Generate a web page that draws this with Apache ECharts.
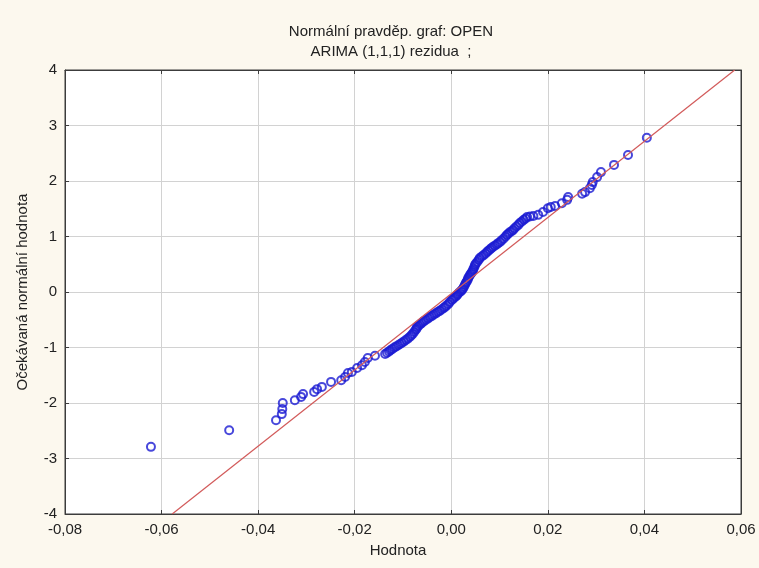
<!DOCTYPE html>
<html>
<head>
<meta charset="utf-8">
<script src="https://cdn.jsdelivr.net/npm/echarts@6/dist/echarts.min.js"></script>
<style>
html,body{margin:0;padding:0;background:#fcf8ee;}
#chart{width:759px;height:568px;}
</style>
</head>
<body>
<div id="chart"></div>
<script>
// ---- data ----
const titleLines = ['Normální pravděp. graf: OPEN', 'ARIMA (1,1,1) rezidua  ;'];
const xAxisName = 'Hodnota';
const yAxisName = 'Očekávaná normální hodnota';
const xTickLabels = ['-0,08','-0,06','-0,04','-0,02','0,00','0,02','0,04','0,06'];
const yTickLabels = ['-4','-3','-2','-1','0','1','2','3','4'];
const xMin = -0.08, xMax = 0.06, xStep = 0.02;
const yMin = -4, yMax = 4, yStep = 1;

// residual values (x) and expected normal values (y)
const residuals = [
  -0.0622,-0.0460,-0.0363,-0.0351,-0.0350,-0.0349,-0.0324,-0.0311,-0.0307,-0.0284,-0.0278,-0.0268,-0.0249,-0.0228,-0.0220,-0.0214,-0.0206,-0.0195,-0.0185,-0.0179,-0.0173,-0.0158,
  -0.0137,-0.0133,-0.0129,-0.0126,-0.0122,-0.0118,-0.0114,-0.0110,-0.0106,
  -0.0102,-0.0098,-0.0094,-0.0090,-0.0086,
  -0.0083,-0.0080,-0.0077,-0.0074,-0.0072,-0.0071,
  -0.0068,-0.0065,-0.0062,-0.0059,
  -0.0056,-0.0052,-0.0048,-0.0044,
  -0.0040,-0.0036,-0.0032,-0.0028,
  -0.0024,-0.0020,-0.0016,-0.0013,
  -0.0010,-0.0006,-0.0003,0.0001,
  0.0004,0.0007,0.0010,0.0012,
  0.0014,0.0017,0.0020,0.0022,
  0.0024,0.0026,0.0028,
  0.0030,0.0032,0.0034,0.0035,
  0.0037,0.0039,0.0041,0.0043,
  0.0045,0.0046,0.0048,0.0049,
  0.0051,0.0054,0.0057,0.0059,
  0.0063,0.0067,0.0071,0.0074,
  0.0077,0.0080,0.0083,0.0086,
  0.0090,0.0094,0.0097,0.0101,
  0.0104,0.0108,0.0112,0.0115,
  0.0118,0.0121,0.0125,0.0128,
  0.0131,0.0135,0.0139,0.0142,
  0.0146,0.0150,0.0154,0.0157,
  0.0163,0.0170,
  0.0180,0.0190,0.0200,0.0206,0.0215,0.0229,0.0240,0.0242,0.0271,0.0277,0.0287,0.0291,0.0293,0.0302,0.0310,0.0337,0.0366,0.0405
];
const expectedNormal = [
  -2.79,-2.49,-2.31,-2.20,-2.11,-2.00,-1.95,-1.89,-1.84,-1.80,-1.75,-1.71,-1.62,-1.59,-1.53,-1.46,-1.44,-1.37,-1.32,-1.26,-1.19,-1.15,
  -1.117,-1.095,-1.07,-1.05,-1.025,-1.0,-0.98,-0.96,-0.937,
  -0.915,-0.89,-0.865,-0.84,-0.811,
  -0.785,-0.755,-0.72,-0.685,-0.66,-0.631,
  -0.61,-0.585,-0.565,-0.541,
  -0.52,-0.50,-0.475,-0.45,
  -0.43,-0.405,-0.385,-0.36,
  -0.34,-0.315,-0.29,-0.27,
  -0.245,-0.215,-0.18,-0.144,
  -0.12,-0.095,-0.075,-0.054,
  -0.03,-0.005,0.015,0.036,
  0.06,0.09,0.126,
  0.16,0.19,0.22,0.252,
  0.28,0.31,0.335,0.36,
  0.39,0.42,0.455,0.486,
  0.515,0.545,0.58,0.613,
  0.64,0.665,0.695,0.721,
  0.745,0.765,0.79,0.811,
  0.835,0.855,0.88,0.901,
  0.93,0.96,0.995,1.027,
  1.05,1.075,1.095,1.117,
  1.15,1.18,1.21,1.243,
  1.27,1.30,1.325,1.351,
  1.36,1.37,
  1.39,1.44,1.51,1.53,1.55,1.60,1.66,1.71,1.77,1.80,1.87,1.93,1.98,2.07,2.16,2.29,2.47,2.78
];
// reference (fitted normal) line end points
const refLineX = [-0.0578, 0.0587];
const refLineY = [-4, 4];

// ---- chart ----
const FONT = 'Liberation Sans, Arial, sans-serif';
const TXT = '#222222';
const chart = echarts.init(document.getElementById('chart'), null, {renderer: 'canvas'});

const xLabel = v => xTickLabels[Math.round((v - xMin) / xStep)] ?? '';
const yLabel = v => yTickLabels[Math.round((v - yMin) / yStep)] ?? '';

const axisCommon = {
  axisLine: {show: true, onZero: false, lineStyle: {color: '#3c3c3c', width: 1}},
  axisTick: {show: true, inside: true, length: 4, lineStyle: {color: '#3c3c3c'}},
};

chart.setOption({
  animation: false,
  backgroundColor: '#fcf8ee',
  title: {
    text: titleLines.join('\n'),
    left: 386, top: 17, textAlign: 'center',
    textStyle: {fontFamily: FONT, fontSize: 15, fontWeight: 'normal', color: TXT, lineHeight: 20}
  },
  grid: {
    left: 65, right: 18, top: 70, bottom: 54,
    show: true, backgroundColor: '#ffffff', borderColor: '#3c3c3c', borderWidth: 1
  },
  xAxis: [{
    type: 'value', min: xMin, max: xMax, interval: xStep, position: 'bottom',
    name: xAxisName, nameLocation: 'middle', nameGap: 29,
    nameTextStyle: {fontFamily: FONT, fontSize: 15, color: TXT, padding: [0, 10, 0, 0]},
    axisLabel: {formatter: xLabel, fontFamily: FONT, fontSize: 15, color: TXT, margin: 8},
    splitLine: {show: true, lineStyle: {color: '#d2d2d2', width: 1}},
    ...axisCommon
  }, {
    type: 'value', min: xMin, max: xMax, interval: xStep, position: 'top',
    axisLabel: {show: false}, splitLine: {show: false},
    ...axisCommon
  }],
  yAxis: [{
    type: 'value', min: yMin, max: yMax, interval: yStep, position: 'left',
    name: yAxisName, nameLocation: 'middle', nameGap: 35, nameRotate: 90,
    nameTextStyle: {fontFamily: FONT, fontSize: 15, color: TXT},
    axisLabel: {formatter: yLabel, fontFamily: FONT, fontSize: 15, color: TXT, margin: 8},
    splitLine: {show: true, lineStyle: {color: '#d2d2d2', width: 1}},
    ...axisCommon
  }, {
    type: 'value', min: yMin, max: yMax, interval: yStep, position: 'right',
    axisLabel: {show: false}, splitLine: {show: false},
    ...axisCommon
  }],
  series: [{
    type: 'scatter',
    xAxisIndex: 0, yAxisIndex: 0,
    symbol: 'circle', symbolSize: 8,
    itemStyle: {color: 'rgba(0,0,0,0)', borderColor: '#1a1ad2', borderWidth: 2},
    data: residuals.map((x, i) => [x, expectedNormal[i]]),
    z: 2
  }, {
    type: 'line',
    xAxisIndex: 0, yAxisIndex: 0,
    showSymbol: false, symbol: 'none',
    lineStyle: {color: '#d25a5a', width: 1.2},
    data: refLineX.map((x, i) => [x, refLineY[i]]),
    z: 3
  }]
});
</script>
</body>
</html>
